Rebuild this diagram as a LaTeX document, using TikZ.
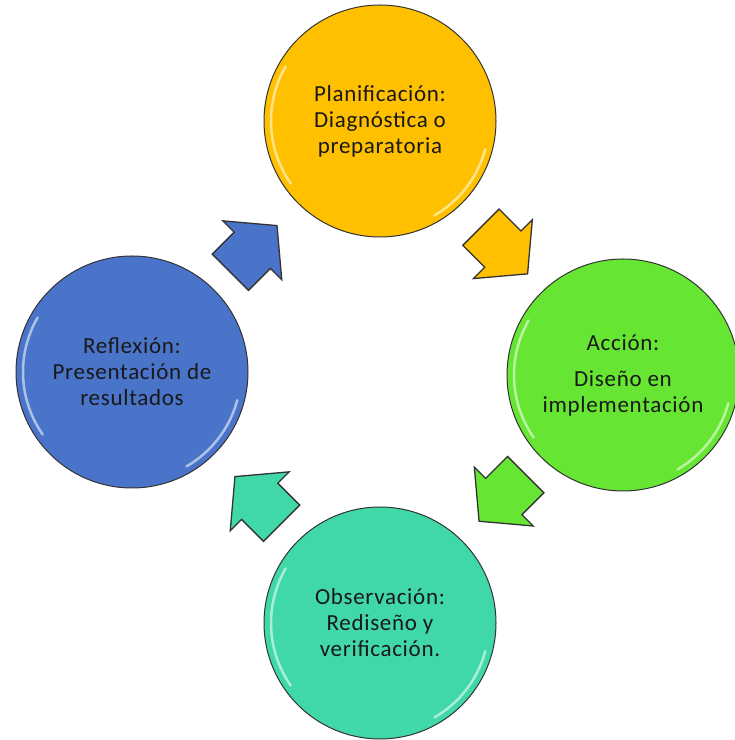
\documentclass[tikz,border=0pt]{standalone}
\usepackage{fontspec}
\setmainfont{Carlito}[LetterSpace=3]
\usetikzlibrary{positioning}
\usetikzlibrary{shapes,arrows,calc}

\definecolor{amarillo}{HTML}{FFC000}
\definecolor{verde}{HTML}{66E632}
\definecolor{turquesa}{HTML}{40D8A8}
\definecolor{azul}{HTML}{4A74C9}
\definecolor{borde}{HTML}{333333}

\tikzset{
	fase/.style={circle, draw=borde, line width=1pt, minimum size=232pt, inner sep=0pt, align=center, text=black!90, font=\fontsize{23}{26}\selectfont},
	flecha/.style={single arrow, draw=borde, line width=1.3pt, minimum height=66pt, minimum width=82pt, single arrow head extend=16pt, single arrow tip angle=100, inner xsep=0pt, inner ysep=25pt},
	brillo/.style={white, opacity=.55, line width=2.5pt, line cap=round}
}

\begin{document}
\begin{tikzpicture}[x=1pt,y=1pt]
		\useasboundingbox (0,0) rectangle (735,740);
		
		\node[fase, fill=amarillo] (plan) at (380,619) {Planificación:\\Diagnóstica o\\preparatoria};
		\node[fase, fill=verde] (accion) at (623,365) {Acción:\\[10pt]Diseño en\\implementación};
		\node[fase, fill=turquesa] (obs) at (380,117) {Observación:\\Rediseño y\\verificación.};
		\node[fase, fill=azul] (refl) at (132,368) {Reflexión:\\Presentación de\\resultados};
		
		% reflejos
		\foreach \n in {plan,accion,obs,refl} {
			\draw[brillo] (\n.center) ++(150:109) arc[start angle=150, end angle=215, radius=109];
			\draw[brillo] (\n.center) ++(-15:109) arc[start angle=-15, end angle=-60, radius=109];
		}
		
		\node[flecha, fill=azul, rotate=45] (f1) at ($(refl)!.46!(plan)$) {};
		\node[flecha, fill=amarillo, rotate=-45] (f2) at ($(plan)!.48!(accion)$) {};
		\node[flecha, fill=verde, rotate=-135] (f3) at ($(accion)!.465!(obs)$) {};
		\node[flecha, fill=turquesa, rotate=135] (f4) at ($(obs)!.46!(refl)$) {};
	\end{tikzpicture}
\end{document}
